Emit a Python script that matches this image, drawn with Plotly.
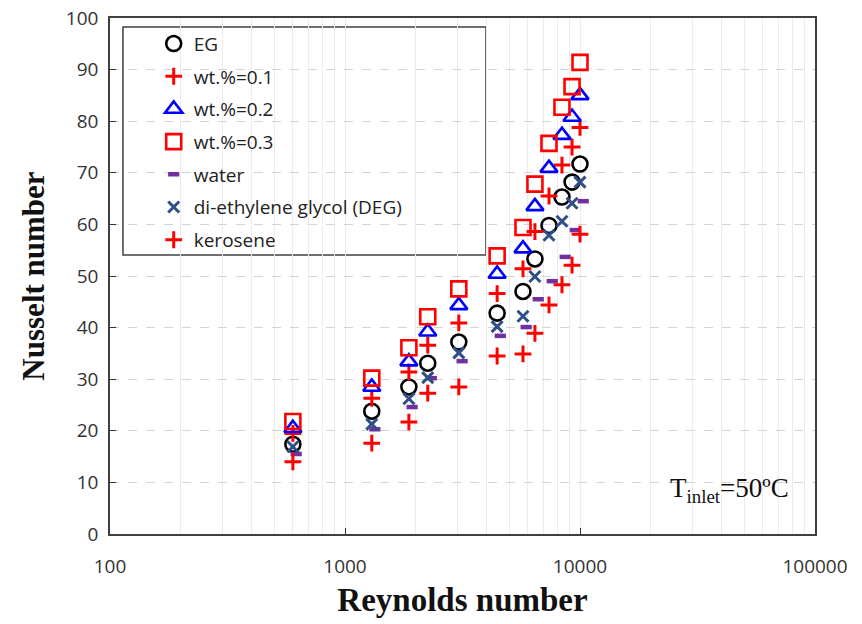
import plotly.graph_objects as go

# ---- data ----
reynolds = [600, 1300, 1870, 2250, 3050, 4440, 5720, 6430, 7380, 8380, 9250, 10000]
reynolds_water = [620, 1340, 1930, 2330, 3150, 4580, 5900, 6640, 7620, 8650, 9550, 10320]

nu_eg = [17.4, 23.8, 28.5, 33.1, 37.2, 42.8, 47.0, 53.3, 59.8, 65.3, 68.2, 71.7]
nu_wt01 = [19.5, 26.3, 31.4, 36.6, 40.9, 46.6, 51.4, 58.6, 65.5, 71.5, 75.0, 78.8]
nu_wt02 = [20.5, 28.5, 33.4, 39.2, 44.3, 50.4, 55.3, 63.5, 70.9, 77.3, 80.8, 85.0]
nu_wt03 = [21.8, 30.2, 36.1, 42.1, 47.5, 53.9, 59.4, 67.8, 75.7, 82.7, 86.7, 91.4]
nu_water = [15.5, 20.3, 24.6, 30.2, 33.5, 38.4, 40.1, 45.5, 49.0, 53.7, 58.9, 64.5]
nu_deg = [16.9, 21.3, 26.2, 30.3, 35.1, 40.2, 42.2, 49.9, 57.9, 60.6, 64.1, 68.2]
nu_kerosene = [14.0, 17.6, 21.7, 27.3, 28.5, 34.5, 34.9, 38.9, 44.4, 48.3, 52.1, 58.1]

x_tickvals = [100, 1000, 10000, 100000]
x_ticktext = ["100", "1000", "10000", "100000"]
x_minorvals = [m * d for d in (100, 1000, 10000) for m in range(2, 10)]
y_tickvals = list(range(0, 101, 10))

names = ["EG", "wt.%=0.1", "wt.%=0.2", "wt.%=0.3", "water",
         "di-ethylene glycol (DEG)", "kerosene"]

fig = go.Figure()

def add(name, x, y, symbol, color, size, lw):
    fig.add_trace(go.Scatter(
        x=x, y=y, mode="markers", name=name, legendgroup=name,
        marker=dict(symbol=symbol, size=size, color=color,
                    line=dict(color=color, width=lw)),
    ))

add(names[0], reynolds, nu_eg, "circle-open", "#000000", 15, 2.6)
add(names[1], reynolds, nu_wt01, "cross-thin-open", "#FF0000", 12, 3)
add(names[2], reynolds, nu_wt02, "triangle-up-open", "#0000FF", 15, 2.6)
add(names[3], reynolds, nu_wt03, "square-open", "#FF0000", 15, 2.6)
add(names[4], reynolds_water, nu_water, "line-ew-open", "#7030A0", 8, 4.5)
add(names[5], reynolds, nu_deg, "x-thin-open", "#2F4F86", 11, 3)
add(names[6], reynolds, nu_kerosene, "cross-thin-open", "#FF0000", 12, 3)

tick_font = dict(family="Open Sans, Lato, sans-serif", size=19, color="#333333")

fig.update_layout(
    width=862, height=624,
    margin=dict(l=110, r=47, t=18, b=90),
    paper_bgcolor="white", plot_bgcolor="white",
    showlegend=True,
    legend=dict(
        x=0.062, y=0.987, xanchor="left", yanchor="top",
        bgcolor="rgba(0,0,0,0)", borderwidth=0,
        font=dict(family="Open Sans, Lato, sans-serif", size=19, color="#222222"),
        traceorder="grouped", tracegroupgap=5,
    ),
    xaxis=dict(
        type="log", range=[2, 5], automargin=False,
        tickvals=x_tickvals, ticktext=x_ticktext,
        ticks="inside", ticklen=6, tickcolor="#333333",
        tickfont=tick_font, ticklabelstandoff=14,
        showline=True, linecolor="#404040", linewidth=1.5, mirror=True,
        showgrid=True, gridcolor="#ececec", gridwidth=1,
        minor=dict(tickvals=x_minorvals, showgrid=True, gridcolor="#ececec",
                   gridwidth=1, ticks=""),
        title=dict(text="<b>Reynolds number</b>", standoff=10,
                   font=dict(family="Liberation Serif, Times New Roman, serif",
                             size=33, color="#111111")),
    ),
    yaxis=dict(
        range=[0, 100], tickvals=y_tickvals, automargin=False,
        ticks="inside", ticklen=6, tickcolor="#333333",
        tickfont=tick_font, ticklabelstandoff=6,
        showline=True, linecolor="#404040", linewidth=1.5, mirror=True,
        showgrid=True, gridcolor="#d4d4d4", gridwidth=1, griddash="dash",
        zeroline=False,
        title=dict(text="<b>Nusselt number</b>", standoff=12,
                   font=dict(family="Liberation Serif, Times New Roman, serif",
                             size=31, color="#111111")),
    ),
    shapes=[dict(
        type="rect", xref="paper", yref="paper",
        x0=0.0184, x1=0.5333, y0=0.5407, y1=0.9826,
        fillcolor="white", line=dict(color="#404040", width=1.5),
        layer="between",
    )],
    annotations=[dict(
        xref="paper", yref="paper", x=0.966, y=0.085,
        xanchor="right", yanchor="middle", showarrow=False,
        text="T<sub>inlet</sub>=50ºC",
        font=dict(family="Liberation Serif, Times New Roman, serif",
                  size=27, color="#111111"),
    )],
)

fig.write_html("out.html")
